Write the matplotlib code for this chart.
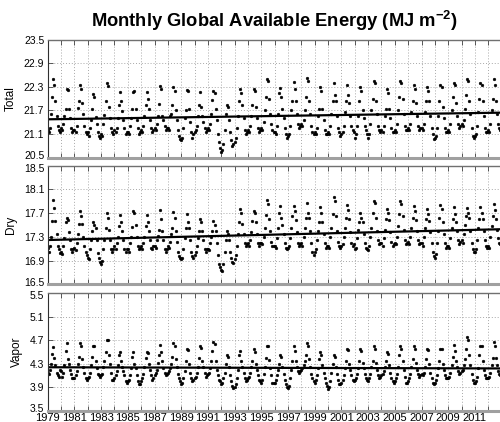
import numpy as np
import matplotlib
matplotlib.use("Agg")
import matplotlib.pyplot as plt
import matplotlib.transforms as mtransforms

plt.rcParams['font.family'] = ['Liberation Sans', 'DejaVu Sans']
plt.rcParams['mathtext.fontset'] = 'custom'
plt.rcParams['mathtext.rm'] = 'Liberation Sans'
plt.rcParams['mathtext.bf'] = 'Liberation Sans:bold'

years = list(range(1979, 2013))

total = [
 [21.20,21.15,21.25,21.60,22.05,22.50,22.35,21.95,21.55,21.30,21.20,21.15],
 [21.25,21.20,21.35,21.55,21.75,22.25,22.22,21.75,21.50,21.25,21.15,21.20],
 [21.20,21.15,21.30,21.77,21.93,22.35,22.25,21.88,21.60,21.30,21.15,21.10],
 [21.15,21.05,21.25,21.45,21.75,22.11,22.04,21.54,21.35,21.15,21.05,21.00],
 [21.10,21.05,21.35,21.58,21.95,22.39,22.33,21.80,21.50,21.25,21.15,21.10],
 [21.20,21.15,21.25,21.50,21.84,22.16,21.95,21.69,21.45,21.25,21.10,21.15],
 [21.15,21.10,21.30,21.50,21.73,22.18,22.20,21.73,21.45,21.25,21.10,21.15],
 [21.20,21.15,21.30,21.55,21.85,22.16,22.00,21.75,21.45,21.25,21.15,21.20],
 [21.25,21.20,21.35,21.55,21.86,22.33,22.25,21.55,21.45,21.30,21.20,21.25],
 [21.25,21.20,21.55,21.60,21.85,22.31,22.20,21.70,21.45,21.20,21.05,20.98],
 [20.95,21.00,21.25,21.50,21.70,22.22,22.20,21.75,21.40,21.15,21.00,21.10],
 [21.15,21.20,21.30,21.55,21.83,22.16,21.80,21.55,21.40,21.25,21.15,21.20],
 [21.25,21.20,21.35,21.60,21.97,22.21,22.15,21.75,21.45,21.10,20.90,20.75],
 [20.65,20.70,20.85,21.20,21.60,21.84,21.78,21.45,21.15,20.95,20.80,20.85],
 [20.90,21.00,21.25,21.55,21.95,22.24,22.15,21.85,21.50,21.20,21.10,21.15],
 [21.20,21.15,21.30,21.55,21.85,22.25,22.20,21.80,21.50,21.25,21.15,21.20],
 [21.25,21.20,21.40,21.70,22.05,22.50,22.45,22.00,21.60,21.35,21.20,21.15],
 [21.15,21.10,21.30,21.60,22.15,22.28,22.05,21.75,21.50,21.25,21.10,21.00],
 [21.05,21.10,21.30,21.70,21.95,22.42,22.25,21.95,21.60,21.35,21.25,21.30],
 [21.35,21.30,21.45,21.70,22.05,22.52,22.45,21.95,21.60,21.30,21.15,21.10],
 [21.15,21.10,21.25,21.55,21.75,22.30,22.20,21.75,21.45,21.20,21.10,21.10],
 [21.15,21.10,21.30,21.60,21.95,22.39,22.10,21.95,21.55,21.25,21.15,21.05],
 [21.10,21.15,21.30,21.65,21.95,22.35,22.10,21.90,21.55,21.30,21.20,21.15],
 [21.00,21.10,21.30,21.55,21.95,22.30,22.20,21.70,21.50,21.30,21.20,21.10],
 [21.00,21.10,21.35,21.70,22.00,22.45,22.40,21.95,21.60,21.30,21.20,21.15],
 [21.20,21.15,21.30,21.55,21.75,22.25,22.15,21.75,21.50,21.25,21.15,21.15],
 [21.20,21.15,21.35,21.70,22.05,22.45,22.40,22.00,21.60,21.30,21.20,21.20],
 [21.25,21.20,21.35,21.65,21.95,22.35,22.25,21.90,21.55,21.30,21.20,21.25],
 [21.25,21.20,21.35,21.65,21.95,22.30,22.20,21.95,21.55,21.25,21.10,20.98],
 [21.00,21.05,21.25,21.55,21.95,22.35,22.30,21.80,21.50,21.25,21.15,21.15],
 [21.20,21.15,21.35,21.70,22.05,22.40,22.35,21.90,21.55,21.35,21.25,21.30],
 [21.35,21.30,21.45,21.75,22.10,22.50,22.45,21.95,21.60,21.25,21.05,21.00],
 [21.05,21.10,21.30,21.65,22.00,22.40,22.35,21.95,21.55,21.25,21.15,21.15],
 [21.20,21.15,21.35,21.70,22.00,22.50,22.35,21.95,21.60,21.35,21.25,21.20],
]

dry = [
 [17.12,17.05,17.15,17.30,17.57,17.92,17.79,17.57,17.35,17.15,17.09,17.03],
 [17.05,17.02,17.15,17.28,17.55,17.62,17.58,17.39,17.25,17.10,17.05,17.10],
 [17.12,17.08,17.20,17.35,17.52,17.73,17.65,17.52,17.30,17.15,17.05,17.00],
 [16.95,16.92,17.10,17.25,17.40,17.55,17.50,17.45,17.25,17.03,16.95,16.88],
 [16.84,16.90,17.10,17.25,17.45,17.70,17.62,17.42,17.25,17.10,17.05,17.10],
 [17.15,17.10,17.20,17.30,17.48,17.67,17.55,17.40,17.25,17.10,17.05,17.10],
 [17.10,17.05,17.20,17.30,17.47,17.73,17.70,17.50,17.30,17.15,17.10,17.12],
 [17.15,17.10,17.20,17.30,17.48,17.67,17.55,17.40,17.25,17.12,17.10,17.15],
 [17.15,17.12,17.25,17.32,17.42,17.75,17.60,17.40,17.25,17.10,17.05,17.10],
 [17.15,17.12,17.22,17.35,17.45,17.72,17.62,17.40,17.22,17.05,16.98,16.95],
 [16.92,16.95,17.10,17.28,17.45,17.68,17.55,17.45,17.25,17.05,16.98,16.95],
 [17.00,17.05,17.15,17.28,17.40,17.60,17.55,17.40,17.25,17.10,17.05,17.10],
 [17.10,17.08,17.20,17.30,17.40,17.57,17.50,17.40,17.20,17.00,16.85,16.80],
 [16.75,16.72,16.85,17.05,17.25,17.40,17.35,17.25,17.05,16.95,16.88,16.86],
 [16.92,17.00,17.15,17.35,17.55,17.77,17.70,17.52,17.35,17.20,17.15,17.18],
 [17.20,17.15,17.25,17.38,17.57,17.73,17.70,17.55,17.35,17.20,17.15,17.20],
 [17.20,17.18,17.30,17.45,17.67,17.92,17.85,17.60,17.40,17.22,17.15,17.15],
 [17.15,17.12,17.28,17.45,17.70,17.82,17.62,17.50,17.35,17.20,17.12,17.10],
 [17.12,17.15,17.28,17.45,17.65,17.82,17.73,17.58,17.38,17.20,17.15,17.18],
 [17.20,17.15,17.30,17.45,17.62,17.87,17.70,17.62,17.40,17.20,17.05,17.00],
 [17.05,17.10,17.25,17.40,17.55,17.80,17.70,17.55,17.35,17.20,17.12,17.15],
 [17.15,17.12,17.30,17.45,17.68,17.97,17.90,17.65,17.40,17.22,17.15,17.12],
 [17.15,17.18,17.30,17.45,17.62,17.83,17.75,17.60,17.38,17.20,17.15,17.18],
 [17.10,17.12,17.28,17.42,17.55,17.70,17.62,17.55,17.35,17.20,17.12,17.10],
 [17.08,17.15,17.30,17.45,17.70,17.90,17.87,17.62,17.40,17.25,17.18,17.20],
 [17.20,17.15,17.28,17.42,17.60,17.77,17.70,17.58,17.38,17.22,17.15,17.18],
 [17.20,17.18,17.30,17.48,17.68,17.90,17.85,17.65,17.42,17.25,17.18,17.20],
 [17.22,17.18,17.30,17.45,17.62,17.82,17.73,17.58,17.40,17.25,17.18,17.20],
 [17.20,17.15,17.30,17.45,17.60,17.77,17.68,17.57,17.38,17.20,17.05,16.98],
 [16.95,17.02,17.20,17.40,17.62,17.83,17.77,17.55,17.35,17.20,17.12,17.15],
 [17.15,17.12,17.28,17.45,17.60,17.80,17.68,17.55,17.40,17.25,17.18,17.22],
 [17.25,17.20,17.35,17.50,17.65,17.78,17.70,17.62,17.40,17.20,17.10,17.05],
 [17.05,17.10,17.25,17.45,17.60,17.80,17.70,17.60,17.40,17.25,17.15,17.12],
 [17.15,17.12,17.30,17.48,17.65,17.85,17.75,17.60,17.42,17.28,17.20,17.18],
]

vapor = [
 [4.15,4.12,4.20,4.30,4.47,4.59,4.39,4.28,4.14,4.10,4.07,4.19],
 [4.18,4.08,4.15,4.28,4.51,4.65,4.38,4.30,4.20,4.12,4.05,4.05],
 [4.05,4.10,4.18,4.30,4.42,4.65,4.60,4.38,4.25,4.15,4.05,4.02],
 [4.05,4.08,4.15,4.28,4.42,4.60,4.60,4.35,4.22,4.12,4.10,4.08],
 [4.10,4.12,4.25,4.35,4.50,4.70,4.70,4.45,4.30,4.15,4.03,4.02],
 [4.05,4.10,4.18,4.28,4.45,4.50,4.35,4.25,4.18,4.10,4.00,3.98],
 [4.00,4.02,4.10,4.22,4.42,4.50,4.30,4.22,4.10,4.00,3.95,3.95],
 [4.00,4.05,4.12,4.25,4.40,4.50,4.48,4.30,4.20,4.10,4.02,4.05],
 [4.10,4.15,4.20,4.32,4.45,4.62,4.50,4.35,4.22,4.15,4.10,4.12],
 [4.15,4.18,4.22,4.30,4.42,4.65,4.60,4.38,4.25,4.12,4.05,4.00],
 [3.95,3.97,4.05,4.18,4.35,4.55,4.53,4.30,4.15,4.05,4.00,4.02],
 [4.05,4.08,4.15,4.25,4.40,4.60,4.57,4.35,4.25,4.15,4.08,4.10],
 [4.12,4.15,4.22,4.35,4.52,4.67,4.63,4.35,4.20,4.10,4.02,4.00],
 [3.95,3.98,4.05,4.15,4.30,4.45,4.42,4.25,4.10,4.00,3.92,3.88],
 [3.90,3.95,4.05,4.20,4.45,4.52,4.35,4.25,4.15,4.05,4.00,4.02],
 [4.05,4.08,4.15,4.25,4.35,4.55,4.50,4.30,4.20,4.10,4.02,4.00],
 [3.98,4.02,4.12,4.25,4.40,4.60,4.60,4.37,4.22,4.10,3.98,3.97],
 [3.98,4.02,4.10,4.20,4.30,4.45,4.42,4.25,4.12,4.02,3.95,3.90],
 [3.88,3.92,4.05,4.20,4.35,4.60,4.52,4.35,4.25,4.18,4.15,4.18],
 [4.20,4.22,4.28,4.35,4.45,4.65,4.60,4.38,4.25,4.12,4.05,4.00],
 [3.98,4.02,4.10,4.22,4.38,4.50,4.45,4.28,4.15,4.05,3.97,3.92],
 [3.87,3.90,4.00,4.15,4.30,4.45,4.42,4.25,4.12,4.02,3.95,3.95],
 [3.97,4.02,4.10,4.22,4.35,4.55,4.53,4.30,4.20,4.10,4.02,4.00],
 [4.02,4.05,4.12,4.22,4.35,4.55,4.52,4.32,4.22,4.12,4.05,4.02],
 [4.00,4.05,4.12,4.25,4.35,4.60,4.55,4.32,4.20,4.10,4.05,4.08],
 [4.10,4.12,4.18,4.25,4.35,4.50,4.47,4.28,4.15,4.05,4.00,3.98],
 [4.00,4.05,4.12,4.25,4.45,4.60,4.55,4.35,4.20,4.08,3.98,3.97],
 [4.00,4.05,4.12,4.25,4.38,4.60,4.55,4.32,4.20,4.12,4.08,4.10],
 [4.12,4.10,4.15,4.25,4.38,4.55,4.53,4.30,4.15,4.05,3.97,3.95],
 [3.97,4.02,4.10,4.22,4.35,4.55,4.55,4.30,4.20,4.10,4.05,4.05],
 [4.05,4.08,4.15,4.28,4.42,4.62,4.52,4.35,4.25,4.18,4.12,4.15],
 [4.18,4.20,4.28,4.38,4.55,4.75,4.70,4.45,4.28,4.12,4.02,3.98],
 [3.97,4.00,4.08,4.22,4.45,4.60,4.60,4.35,4.20,4.10,4.05,4.05],
 [4.05,4.08,4.15,4.28,4.40,4.67,4.60,4.40,4.28,4.18,4.12,4.10],
]

# Linear trend line end values (start of 1979, end of axis)
trend_total = [21.475, 21.645]
trend_dry = [17.248, 17.430]
trend_vapor = [4.240, 4.220]

panel_names = ["Total", "Dry", "Vapor"]
y_limits = [(20.5, 23.5), (16.5, 18.5), (3.5, 5.5)]
y_ticks = [[20.5, 21.1, 21.7, 22.3, 22.9, 23.5],
           [16.5, 16.9, 17.3, 17.7, 18.1, 18.5],
           [3.5, 3.9, 4.3, 4.7, 5.1, 5.5]]
x_range = [1979, 2013]
x_label_years = list(range(1979, 2012, 2))

W, H = 500, 422
fig = plt.figure(figsize=(W/100, H/100), dpi=100)

left = 47.7 / W
right_px = 47.7 + 34 * 13.35
width = (right_px - 47.7) / W
tops = [40.0, 165.7, 293.3]
bots = [157.5, 284.4, 410.7]

series = [total, dry, vapor]
trends = [trend_total, trend_dry, trend_vapor]

axes = []
for i in range(3):
    ax = fig.add_axes([left, 1 - bots[i] / H, width, (bots[i] - tops[i]) / H])
    axes.append(ax)
    data = np.array(series[i]).ravel()
    x = np.array([y + m / 12.0 for y in years for m in range(12)])
    ax.grid(True, which='major', linestyle=(0, (1, 2)), color='#a8a8a8', linewidth=0.7)
    ax.set_axisbelow(True)
    ax.plot(x, data, linestyle='none', marker='o', markersize=2.0,
            color='black', markeredgewidth=0.3)
    ax.plot(x_range, trends[i], color='black', linewidth=1.6)
    ax.set_xlim(x_range)
    ax.set_ylim(y_limits[i])
    ax.set_yticks(y_ticks[i])
    ax.set_yticklabels([f"{v:.1f}" for v in y_ticks[i]])
    ax.set_xticks(list(range(1979, 2014)))
    if i == 2:
        ax.set_xticklabels([str(y) if y in x_label_years else ""
                            for y in range(1979, 2014)])
    else:
        ax.set_xticklabels([])
    ax.tick_params(axis='both', direction='in', length=3.5, width=0.6,
                   color='#404040', top=True, right=False)
    ax.tick_params(axis='x', pad=2.0, labelsize=8)
    ax.tick_params(axis='y', pad=2.5, labelsize=7.5)
    ax.set_ylabel(panel_names[i], fontsize=8.5, labelpad=5)
    ax.spines['left'].set_color('#303030')
    ax.spines['left'].set_linewidth(0.8)
    ax.spines['top'].set_color('#707070')
    ax.spines['top'].set_linewidth(1.0)
    ax.spines['bottom'].set_color('#a0a0a0')
    ax.spines['bottom'].set_linewidth(2.2)
    ax.spines['right'].set_visible(False)

    # nudge the edge labels apart where panels meet (as in the reference)
    labels = ax.get_yticklabels()
    up = mtransforms.ScaledTranslation(0, 2.5 / 100, fig.dpi_scale_trans)
    down = mtransforms.ScaledTranslation(0, -2.0 / 100, fig.dpi_scale_trans)
    labels[0].set_transform(labels[0].get_transform() + up)
    if i > 0:
        labels[-1].set_transform(labels[-1].get_transform() + down)

fig.text((47.7 + right_px) / 2 / W, 1 - 21 / H,
         "Monthly Global Available Energy (MJ m$^{\\mathbf{-2}}$)",
         ha='center', va='center', fontsize=13.2, fontweight='bold')

fig.savefig("out.png", dpi=100)
